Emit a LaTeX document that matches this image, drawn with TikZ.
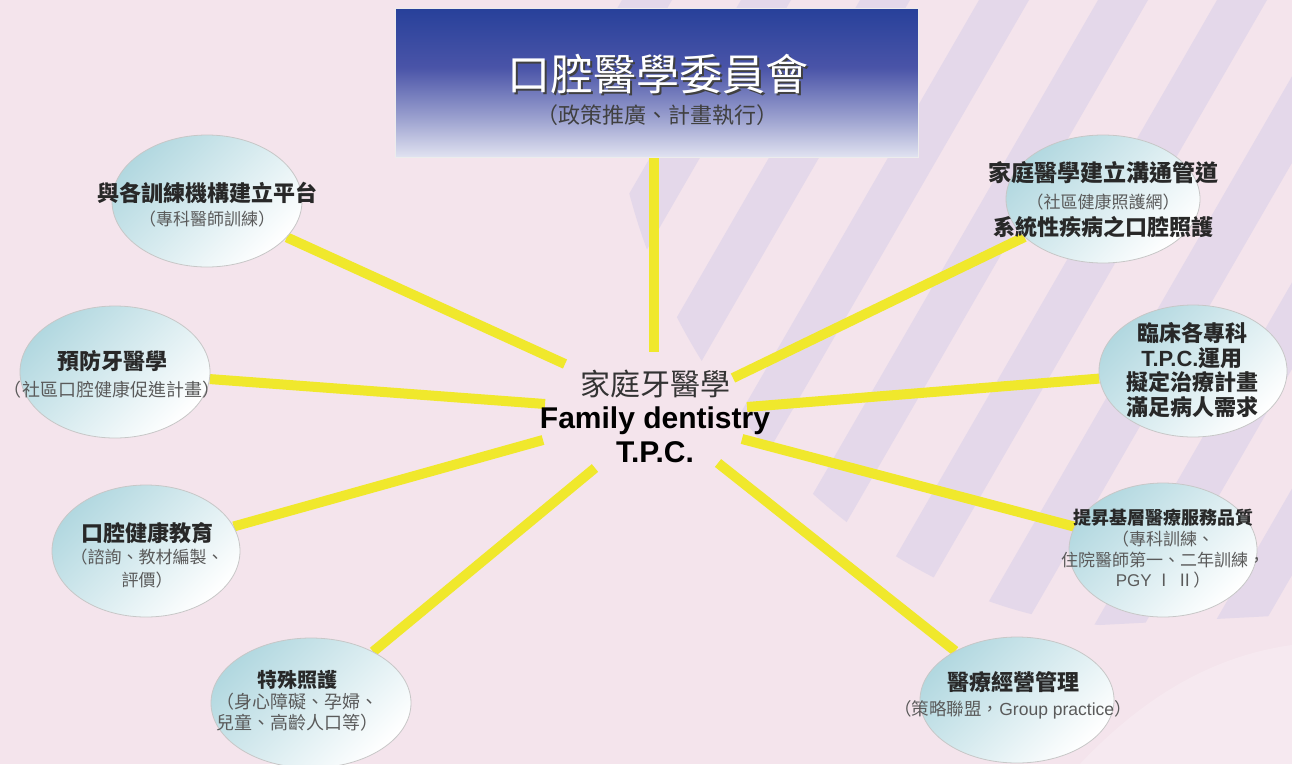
\documentclass[tikz,border=0pt]{standalone}
\usepackage{fontspec}
\setmainfont{Liberation Sans}
\newfontfamily\cjk{Noto Sans CJK TC}
\newfontfamily\lat{Liberation Sans}
\usetikzlibrary{shapes.geometric}
\definecolor{bgpink}{RGB}{244,228,236}
\definecolor{stripecol}{RGB}{228,216,234}
\definecolor{yel}{RGB}{240,232,44}
\definecolor{elltop}{RGB}{178,216,224}
\definecolor{boxtop}{RGB}{24,56,148}
\definecolor{boxmid}{RGB}{74,84,168}
\definecolor{maintxt}{RGB}{40,40,40}
\definecolor{subtxt}{RGB}{90,90,90}
\newcommand\fsz[1]{\fontsize{#1}{#1}\selectfont}
\pgfdeclarelayer{back}
\pgfdeclarelayer{lines}
\pgfsetlayers{back,lines,main}
\pgfdeclareverticalshading{boxshade}{100bp}{
  color(0bp)=(white);
  color(22bp)=(white!92!boxmid);
  color(38bp)=(white!45!boxmid);
  color(55bp)=(boxmid);
  color(75bp)=(boxtop!70!boxmid);
  color(100bp)=(boxtop)}
\tikzset{
  conn/.style={draw=yel, line width=10pt},
  bubble/.style={ellipse, draw=black!22, line width=0.8pt, top color=elltop, bottom color=white, shading angle=45, inner sep=0pt},
  btxt/.style={align=center, text=maintxt, inner sep=0pt},
}
\begin{document}
\begin{tikzpicture}[x=1pt,y=-1pt]
\useasboundingbox (0,0) rectangle (1292,764);
\begin{pgfonlayer}{back}
\fill[bgpink] (0,0) rectangle (1292,764);
\begin{scope}
\clip (612,0) -- (1292,0) -- (1292,615) -- (1100,625) .. controls (880,610) and (660,400) .. (618,140) -- cycle;
\foreach \k in {-1,...,10} {
  \fill[stripecol] ({622+119*\k},0) -- ({672+119*\k},0) -- ({672+119*\k-441},764) -- ({622+119*\k-441},764) -- cycle;
}
\end{scope}
\fill[white,opacity=0.22] (1080,764) .. controls (1150,690) and (1220,655) .. (1292,645) -- (1292,764) -- cycle;
\end{pgfonlayer}

% top box
\node[draw=white!85!gray, line width=1pt, minimum width=523pt, minimum height=149pt, shading=boxshade, inner sep=0pt] (box) at (656.5,82.5) {};
\node[font=\cjk\fsz{43}, text=black!75, inner sep=0pt] (titleshadow) at (660,76) {口腔醫學委員會};
\node[font=\cjk\fsz{43}, text=white, inner sep=0pt] (title) at (658,74) {口腔醫學委員會};
\node[font=\cjk\fsz{22}, text=black!75, inner sep=0pt] (subtitle) at (657,115) {（政策推廣、計畫執行）};

% hub
\node[align=center, inner sep=0pt, font=\fontsize{30}{33.5}\selectfont] (hub) at (655,416)
  {{\cjk\color{black!80}家庭牙醫學}\\{\bfseries Family dentistry}\\{\bfseries T.P.C.}};

% bubbles
\node[bubble, minimum width=190pt, minimum height=132pt] (e1) at (207,201) {};
\node[bubble, minimum width=194pt, minimum height=128pt] (e2) at (1103,199) {};
\node[bubble, minimum width=190pt, minimum height=132pt] (e3) at (115,372) {};
\node[bubble, minimum width=188pt, minimum height=132pt] (e4) at (1193,371) {};
\node[bubble, minimum width=188pt, minimum height=132pt] (e5) at (146,551) {};
\node[bubble, minimum width=188pt, minimum height=134pt] (e6) at (1163,550) {};
\node[bubble, minimum width=200pt, minimum height=130pt] (e7) at (311,703) {};
\node[bubble, minimum width=194pt, minimum height=126pt] (e8) at (1017,700) {};

\node[btxt, font=\cjk\fontsize{22}{24}\selectfont] (t1) at (207,205)
  {{\bfseries 與各訓練機構建立平台}\\{\fsz{17}\color{subtxt}（專科醫師訓練）}};
\node[btxt, font=\cjk\fontsize{22}{27}\selectfont] (t2) at (1103,200)
  {{\fsz{23}\bfseries 家庭醫學建立溝通管道}\\{\fsz{17}\color{subtxt}（社區健康照護網）}\\{\bfseries 系統性疾病之口腔照護}};
\node[btxt, font=\cjk\fontsize{22}{27}\selectfont] (t3) at (112,374)
  {{\bfseries 預防牙醫學}\\{\fsz{18}\color{subtxt}（社區口腔健康促進計畫）}};
\node[btxt, font=\cjk\fontsize{22}{24.7}\selectfont] (t4) at (1192,370)
  {{\bfseries 臨床各專科}\\{\lat\bfseries T.P.C.}{\bfseries 運用}\\{\bfseries 擬定治療計畫}\\{\bfseries 滿足病人需求}};
\node[btxt, font=\cjk\fontsize{22}{22.5}\selectfont] (t5) at (147,555)
  {{\bfseries 口腔健康教育}\\{\fsz{17}\color{subtxt}（諮詢、教材編製、}\\{\fsz{17}\color{subtxt}評價）}};
\node[btxt, font=\cjk\fontsize{18}{20.7}\selectfont] (t6) at (1163,549)
  {{\bfseries 提昇基層醫療服務品質}\\{\fsz{17}\color{subtxt}（專科訓練、}\\{\fsz{17}\color{subtxt}住院醫師第一、二年訓練，}\\{\fsz{17}\color{subtxt}{\lat PGY} Ⅰ Ⅱ）}};
\node[btxt, font=\cjk\fontsize{20}{21}\selectfont] (t7) at (297,701)
  {{\bfseries 特殊照護}\\{\fsz{18}\color{subtxt}（身心障礙、孕婦、}\\{\fsz{18}\color{subtxt}兒童、高齡人口等）}};
\node[btxt, font=\cjk\fontsize{22}{25}\selectfont] (t8) at (1013,695)
  {{\bfseries 醫療經營管理}\\{\fsz{17.5}\color{subtxt}（策略聯盟，{\lat Group practice}）}};

% inner ends
\coordinate (c0) at (654,352);
\coordinate (c1) at (565,364);
\coordinate (c2) at (733,378);
\coordinate (c3) at (545,404);
\coordinate (c4) at (747,407);
\coordinate (c5) at (543,440);
\coordinate (c6) at (742,439);
\coordinate (c7) at (595,468);
\coordinate (c8) at (718,463);

\begin{pgfonlayer}{lines}
\draw[conn] (box.south -| c0) -- (c0);
\draw[conn] (c1) -- (e1);
\draw[conn] (c2) -- (e2);
\draw[conn] (c3) -- (e3);
\draw[conn] (c4) -- (e4);
\draw[conn] (c5) -- (e5);
\draw[conn] (c6) -- (e6);
\draw[conn] (c7) -- (e7);
\draw[conn] (c8) -- (e8);
\end{pgfonlayer}
\end{tikzpicture}
\end{document}
